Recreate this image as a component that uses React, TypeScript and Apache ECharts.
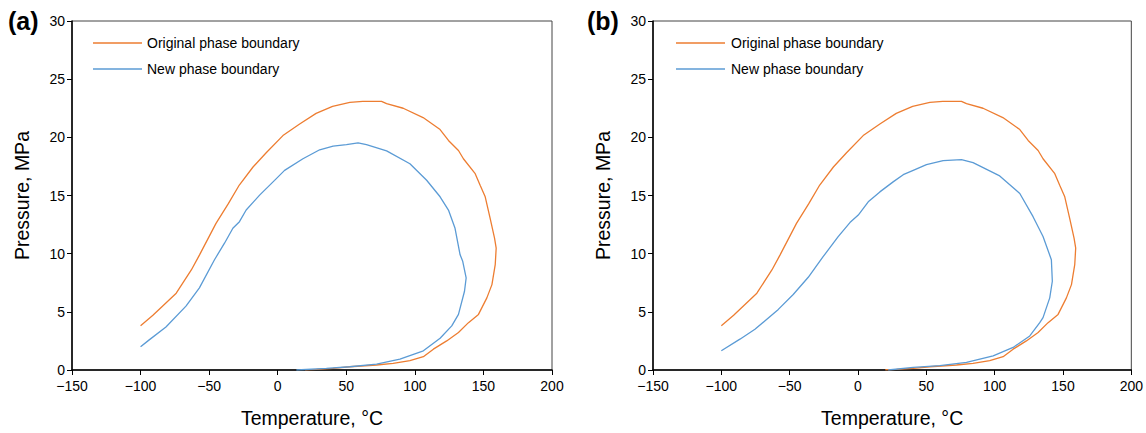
import React, { useEffect, useRef } from "react";
import * as echarts from "echarts";

const xTicks = [-150, -100, -50, 0, 50, 100, 150, 200];
const yTicks = [0, 5, 10, 15, 20, 25, 30];

// Original phase boundary (same in both panels): [temperature °C, pressure MPa]
const originalBoundary: [number, number][] = [
  [-100, 3.8], [-91, 4.7], [-74, 6.6], [-63, 8.6], [-57, 9.9], [-45, 12.6], [-36, 14.3],
  [-28, 15.9], [-18, 17.45], [-8.4, 18.67], [3.8, 20.15], [16, 21.15], [28, 22.06],
  [40, 22.66], [52.6, 23.0], [62, 23.09], [75.7, 23.09], [79.4, 22.9], [91.5, 22.5],
  [106, 21.7], [118.4, 20.67], [124.5, 19.73], [131.8, 18.87], [135.4, 18.16], [144, 16.88],
  [147.6, 15.88], [151.3, 14.89], [154.9, 13.04], [158.1, 11.33], [159.3, 10.48],
  [158.6, 9.05], [156.2, 7.34], [152.5, 6.2], [146.4, 4.78], [139.1, 4.07], [131.8, 3.22],
  [123.2, 2.5], [113.5, 1.79], [106.2, 1.14], [96.4, 0.8], [84.2, 0.57], [72.1, 0.43],
  [52.6, 0.28], [40.4, 0.14], [28.2, 0.06], [20, 0.02],
];

// New phase boundary, panel (a)
const newBoundaryA: [number, number][] = [
  [-100, 1.99], [-93.7, 2.59], [-81.5, 3.7], [-66.9, 5.49], [-57.1, 7.06], [-46.1, 9.48],
  [-38.8, 10.9], [-32.7, 12.18], [-27.9, 12.75], [-23, 13.75], [-13.2, 15.03], [-2.3, 16.3],
  [5, 17.16], [18.4, 18.16], [30.6, 18.93], [40.4, 19.24], [50.1, 19.38], [58.6, 19.53],
  [64.7, 19.38], [79.4, 18.84], [96.4, 17.73], [108.6, 16.31], [118.4, 14.89], [124.5, 13.75],
  [129.3, 12.18], [133, 9.9], [134.9, 9.34], [137.4, 7.91], [136.2, 6.77], [131.8, 4.78],
  [126.9, 3.79], [118.4, 2.73], [106.2, 1.65], [89.1, 0.94], [72.1, 0.51], [52.6, 0.28],
  [35.5, 0.14], [13.6, 0.0],
];

// New phase boundary, panel (b)
const newBoundaryB: [number, number][] = [
  [-100, 1.65], [-86.4, 2.65], [-75.4, 3.5], [-58.3, 5.21], [-47.4, 6.49], [-36.4, 7.97],
  [-25.4, 9.76], [-14.5, 11.47], [-5.9, 12.67], [0.2, 13.32], [7.5, 14.46], [16, 15.31],
  [25.7, 16.17], [33.1, 16.79], [40.4, 17.16], [50.1, 17.65], [62.3, 17.99], [75.7, 18.08],
  [84.2, 17.82], [103.7, 16.68], [118.4, 15.17], [128.1, 13.18], [135.4, 11.47], [141.5, 9.48],
  [142.2, 7.63], [140.3, 6.2], [135.4, 4.5], [133, 4.07], [125.7, 2.93], [113.5, 1.94],
  [98.9, 1.22], [79.4, 0.65], [59.9, 0.37], [40.4, 0.23], [22.1, 0.0],
];

const panelLabels = ["(a)", "(b)"];
const legendNames = ["Original phase boundary", "New phase boundary"];
const xName = "Temperature, °C";
const yName = "Pressure, MPa";

const ORANGE = "#ED7D31";
const BLUE = "#5B9BD5";
const FONT = "Liberation Sans, Arial, sans-serif";

export default function App() {
  const ref = useRef<HTMLDivElement>(null);
  useEffect(() => {
    if (!ref.current) return;
    const chart = echarts.init(ref.current, null, { renderer: "svg" });
    const grids = [
      { left: 72, top: 21, width: 480, height: 351 },
      { left: 653, top: 21, width: 479, height: 351 },
    ];
    const minus = (v: number) => String(v).replace("-", "\u2212");
    const xAxes = grids.map((_, i) => ({
      type: "value",
      gridIndex: i,
      min: xTicks[0],
      max: xTicks[xTicks.length - 1],
      interval: 50,
      name: xName,
      nameLocation: "middle",
      nameGap: 38,
      nameTextStyle: { fontSize: 19.5, color: "#000", fontFamily: FONT },
      axisLine: { show: true, onZero: false, lineStyle: { color: "#000", width: 1.5 } },
      axisTick: { show: true, length: 5, lineStyle: { color: "#000" } },
      axisLabel: { fontSize: 14, color: "#000", fontFamily: FONT, margin: 9, formatter: minus },
      splitLine: { show: false },
    }));
    const yAxes = grids.map((_, i) => ({
      type: "value",
      gridIndex: i,
      min: yTicks[0],
      max: yTicks[yTicks.length - 1],
      interval: 5,
      name: yName,
      nameLocation: "middle",
      nameGap: 40,
      nameTextStyle: { fontSize: 19.5, color: "#000", fontFamily: FONT },
      axisLine: { show: true, onZero: false, lineStyle: { color: "#000", width: 1.5 } },
      axisTick: { show: true, length: 5, lineStyle: { color: "#000" } },
      axisLabel: { fontSize: 14, color: "#000", fontFamily: FONT, margin: 7 },
      splitLine: { show: false },
    }));
    const lineSeries = (data: [number, number][], color: string, i: number, name: string) => ({
      type: "line",
      name,
      xAxisIndex: i,
      yAxisIndex: i,
      data,
      showSymbol: false,
      symbol: "none",
      smooth: false,
      lineStyle: { color, width: 1.3 },
      z: color === BLUE ? 3 : 2,
    });
    const graphics: any[] = [];
    const legendX = [93, 676];
    const textX = [147, 731];
    const labelX = [8, 587];
    grids.forEach((_, i) => {
      graphics.push({
        type: "text",
        left: labelX[i],
        top: 8,
        style: { text: panelLabels[i], fontSize: 25, fontWeight: "bold", fill: "#000", fontFamily: FONT },
      });
      [ORANGE, BLUE].forEach((c, k) => {
        const y = k === 0 ? 43 : 69;
        graphics.push({
          type: "line",
          shape: { x1: legendX[i], y1: y, x2: legendX[i] + 49, y2: y },
          style: { stroke: c, lineWidth: 1.3 },
        });
        graphics.push({
          type: "text",
          x: textX[i],
          y,
          style: {
            text: legendNames[k],
            fontSize: 14,
            fill: "#000",
            fontFamily: FONT,
            verticalAlign: "middle",
            align: "left",
          },
        });
      });
    });
    chart.setOption({
      animation: false,
      backgroundColor: "#fff",
      grid: grids.map((g) => ({ ...g, show: true, borderColor: "#444", borderWidth: 1, backgroundColor: "transparent" })),
      xAxis: xAxes,
      yAxis: yAxes,
      series: [
        lineSeries(originalBoundary, ORANGE, 0, legendNames[0]),
        lineSeries(newBoundaryA, BLUE, 0, legendNames[1]),
        lineSeries(originalBoundary, ORANGE, 1, legendNames[0]),
        lineSeries(newBoundaryB, BLUE, 1, legendNames[1]),
      ],
      graphic: graphics,
    });
    return () => chart.dispose();
  }, []);
  return (
    <div
      ref={ref}
      style={{ position: "fixed", left: 0, top: 0, width: 1146, height: 433, background: "#fff" }}
    />
  );
}
